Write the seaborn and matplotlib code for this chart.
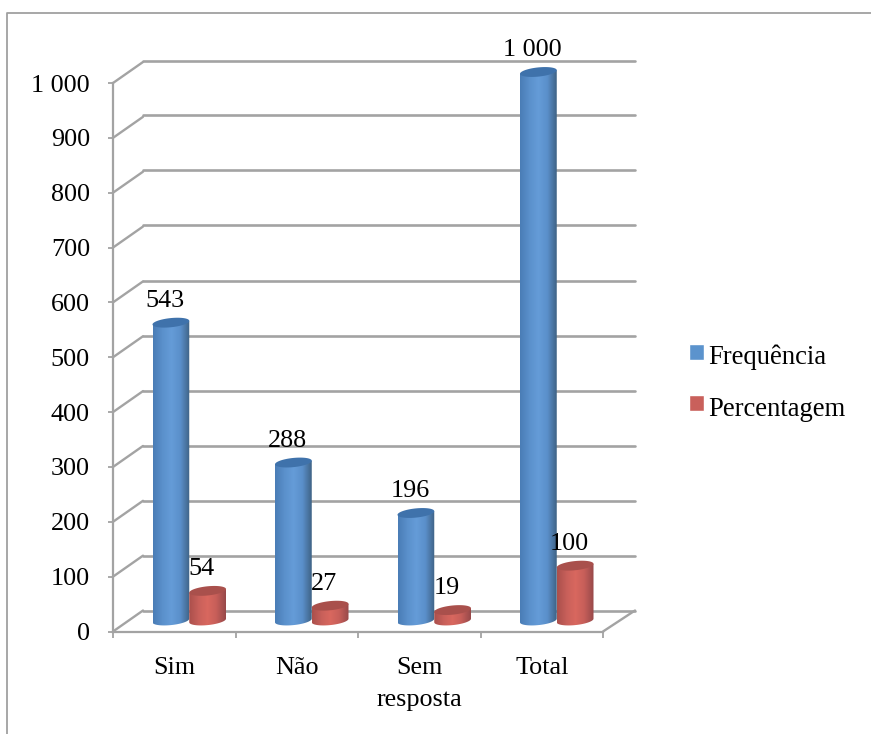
import numpy as np
import pandas as pd
import matplotlib
matplotlib.use("Agg")
import matplotlib.pyplot as plt
import seaborn as sns
from matplotlib.colors import LinearSegmentedColormap
from matplotlib.lines import Line2D
from matplotlib.patches import Polygon

categories = ["Sim", "Não", "Sem\nresposta", "Total"]
frequencia = [543, 288, 196, 1000]
percentagem = [54, 27, 19, 100]
freq_labels = ["543", "288", "196", "1 000"]
perc_labels = ["54", "27", "19", "100"]
y_ticks = [0, 100, 200, 300, 400, 500, 600, 700, 800, 900, 1000]
y_tick_labels = ["0", "100", "200", "300", "400", "500", "600", "700", "800", "900", "1 000"]
series_names = ["Frequência", "Percentagem"]

W, H = 871, 734
GREY = "#a3a3a3"
sns.set_theme(style="white")
plt.rcParams["font.family"] = ["Liberation Serif", "DejaVu Serif"]
FS = 18.8

df = pd.DataFrame({
    "categoria": categories * 2,
    "valor": frequencia + percentagem,
    "serie": [series_names[0]] * 4 + [series_names[1]] * 4,
})

fig = plt.figure(figsize=(W / 100, H / 100), dpi=100, facecolor="white")


def rect(x0, y0, x1, y1):
    return [x0 / W, 1 - y1 / H, (x1 - x0) / W, (y1 - y0) / H]


# pseudo-3D: back wall, bar plane and front axis are three aligned axes
back = fig.add_axes(rect(143, 60.5, 635, 610.5), zorder=1)
mid = fig.add_axes(rect(128, 72, 618, 620.5), zorder=3)
front = fig.add_axes(rect(113, 83, 603, 631.5), zorder=2)

for a in (back, mid, front):
    a.set_xlim(-0.5, 3.5)
    a.set_ylim(0, 1000)
    a.patch.set_alpha(0)

# back wall gridlines
back.set_yticks(y_ticks)
back.set_xticks([])
back.tick_params(left=False, labelleft=False)
back.grid(axis="y", color=GREY, lw=1.9)
sns.despine(ax=back, left=True, bottom=True)
for g in back.get_ygridlines():
    g.set_clip_on(False)

# front axis
front.set_yticks(y_ticks)
front.set_yticklabels(y_tick_labels, fontsize=FS, color="black")
front.set_xticks(np.arange(-0.5, 4.0, 1.0))
front.set_xticklabels([])
front.set_xticks(np.arange(len(categories)), minor=True)
front.set_xticklabels(categories, minor=True, fontsize=FS, color="black", linespacing=1.6)
front.tick_params(axis="y", left=True, length=3.6, width=1.3, color=GREY, pad=13)
front.tick_params(axis="x", which="major", bottom=True, length=4.5, width=1.3, color=GREY)
front.tick_params(axis="x", which="minor", bottom=False, length=0, pad=18)
sns.despine(ax=front)
for s in ("left", "bottom"):
    front.spines[s].set_color(GREY)
    front.spines[s].set_linewidth(1.6)

# diagonal wall and floor edges
for v in y_ticks:
    front.annotate("", xy=(-0.5, v), xycoords="data", xytext=(30, 21),
                   textcoords="offset pixels",
                   arrowprops=dict(arrowstyle="-", color=GREY, lw=1.7, shrinkA=0, shrinkB=0))
front.annotate("", xy=(3.5, 0), xycoords="data", xytext=(32, 21),
               textcoords="offset pixels", annotation_clip=False,
               arrowprops=dict(arrowstyle="-", color=GREY, lw=1.7, shrinkA=0, shrinkB=0))

# bars through seaborn
palette = {series_names[0]: "#5b93cd", series_names[1]: "#c9605b"}
sns.barplot(data=df, x="categoria", y="valor", hue="serie", order=categories,
            hue_order=series_names, palette=palette, width=0.6, gap=0,
            errorbar=None, ax=mid, saturation=1)
mid.set_xlim(-0.5, 3.5)
mid.set_ylim(0, 1000)
mid.set_xlabel("")
mid.set_ylabel("")
mid.set_xticks([])
mid.set_yticks([])
sns.despine(ax=mid, left=True, bottom=True)

grads = [
    LinearSegmentedColormap.from_list("b", ["#4a7db6", "#5a90cb", "#659cd8", "#5a8fca", "#3f6386"]),
    LinearSegmentedColormap.from_list("r", ["#ab504c", "#c75f5a", "#d9685f", "#c65e59", "#97494a"]),
]
caps = ["#3f72ab", "#a9504c"]
U = 1000 / 548.5          # data units per pixel
BX = 4.6 * U              # ellipse half height
SH = 1.8 * U              # tilt of the ellipse
t = np.linspace(0, 2 * np.pi, 121)
bars = [p for c in mid.containers for p in c]
for i, p in enumerate(bars):
    k = i // 4
    x0, w, h = p.get_x(), p.get_width(), p.get_height()
    cx = x0 + w / 2
    p.set_visible(False)
    ex = cx + w / 2 * np.cos(t)
    low = cx + w / 2 * np.cos(t[60:])
    low_y = BX * np.sin(t[60:]) + SH * np.cos(t[60:])
    body = np.vstack([
        np.column_stack([low, low_y]),
        [[x0 + w, h + SH]],
        [[x0, h - SH]],
    ])
    clip = Polygon(body, closed=True, transform=mid.transData, fc="none", ec="none", clip_on=False)
    mid.add_patch(clip)
    im = mid.imshow(np.linspace(0, 1, 64)[None, :], cmap=grads[k], aspect="auto",
                    extent=(x0, x0 + w, -3 * BX, h + 3 * BX), zorder=3 + k)
    im.set_clip_box(fig.bbox)
    im.set_clip_path(clip)
    cap = np.column_stack([ex, h + BX * np.sin(t) + SH * np.cos(t)])
    mid.add_patch(Polygon(cap, closed=True, fc=caps[k], ec="none", zorder=3.5 + k, clip_on=False))
mid.set_xlim(-0.5, 3.5)
mid.set_ylim(0, 1000)

# value labels
texts = freq_labels + perc_labels
for p, s in zip(bars, texts):
    mid.annotate(s, xy=(p.get_x() + p.get_width() / 2, p.get_height()),
                 xytext=(-6, 22), textcoords="offset pixels", ha="center", va="center",
                 fontsize=FS, color="black", zorder=10, annotation_clip=False)

# legend
handles, labels = mid.get_legend_handles_labels()
leg = mid.legend(handles, labels, loc="upper left", bbox_to_anchor=(689 / W, 1 - 345 / H),
                 bbox_transform=fig.transFigure, frameon=False, fontsize=19.2, borderpad=0,
                 borderaxespad=0, handlelength=0.55, handleheight=0.55, handletextpad=0.17,
                 labelspacing=0.98)
for txt in leg.get_texts():
    txt.set_color("black")
for hd in leg.legend_handles:
    hd.set_y(hd.get_y() + 2.2)

# outer frame
fig.add_artist(Line2D([7 / W, 7 / W, 1], [0, 1 - 13 / H, 1 - 13 / H],
                      transform=fig.transFigure, color="#a0a0a0", lw=1.3))

fig.savefig("out.png", dpi=100, facecolor="white")
